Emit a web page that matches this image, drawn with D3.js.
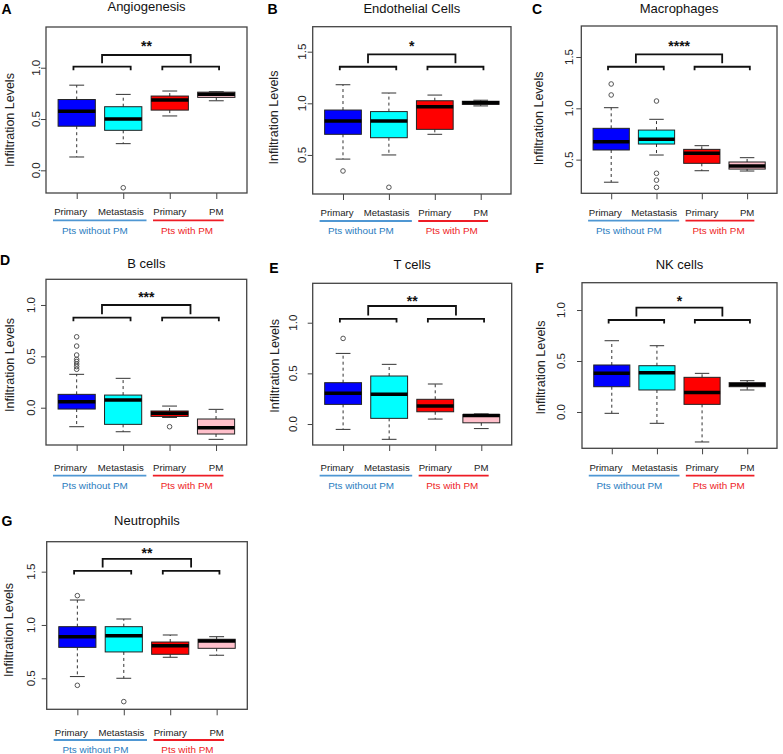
<!DOCTYPE html>
<html>
<head>
<meta charset="utf-8">
<script src="https://cdn.jsdelivr.net/npm/d3@7"></script>
<style>
  html, body { margin: 0; padding: 0; background: #fff; }
  svg { display: block; font-family: "Liberation Sans", Arial, Helvetica, sans-serif; }
</style>
</head>
<body>
<svg id="chart" width="783" height="754"></svg>
<script>
// ---------------- DATA ----------------
const panelTitles = ["Angiogenesis", "Endothelial Cells", "Macrophages", "B cells", "T cells", "NK cells", "Neutrophils"];
const panelLetters = ["A", "B", "C", "D", "E", "F", "G"];
const categories = ["Primary", "Metastasis", "Primary", "PM"];
const groupLabels = ["Pts without PM", "Pts with PM"];
const significance = ["**", "*", "****", "***", "**", "*", "**"];
const yTickValues = [[0, 0.5, 1], [0.5, 1, 1.5], [0.5, 1, 1.5], [0, 0.5, 1], [0, 0.5, 1], [0, 0.5, 1], [0.5, 1, 1.5]];
const yDomains = [[-0.221, 1.397], [0.122, 1.742], [0.172, 1.802], [-0.363, 1.25], [-0.207, 1.389], [-0.356, 1.268], [0.209, 1.781]];

// each box: [lower whisker, Q1, median, Q3, upper whisker]
const angiogenesisStats = [[0.13, 0.43, 0.577, 0.69, 0.83], [0.26, 0.39, 0.50, 0.62, 0.74], [0.53, 0.587, 0.685, 0.724, 0.773], [0.678, 0.711, 0.742, 0.762, 0.766]];
const angiogenesisOutliers = [[], [-0.17], [], []];
const endothelialStats = [[0.46, 0.70, 0.83, 0.935, 1.18], [0.50, 0.667, 0.83, 0.92, 1.10], [0.70, 0.748, 0.967, 1.025, 1.08], [0.975, 0.99, 1.006, 1.02, 1.03]];
const endothelialOutliers = [[0.345], [0.187], [], []];
const macrophageStats = [[0.28, 0.594, 0.675, 0.805, 1.006], [0.545, 0.652, 0.698, 0.788, 0.893], [0.392, 0.464, 0.561, 0.60, 0.636], [0.389, 0.408, 0.438, 0.477, 0.519]];
const macrophageOutliers = [[1.13, 1.237], [1.071, 0.367, 0.30, 0.23], [], []];
const bCellStats = [[-0.185, -0.013, 0.058, 0.13, 0.325], [-0.234, -0.162, 0.075, 0.123, 0.286], [-0.095, -0.085, -0.055, -0.032, 0.016], [-0.308, -0.256, -0.195, -0.11, -0.016]];
const bCellOutliers = [[0.374, 0.40, 0.425, 0.45, 0.47, 0.513, 0.60, 0.69], [], [-0.185], []];
const tCellStats = [[-0.053, 0.194, 0.303, 0.408, 0.697], [-0.151, 0.056, 0.293, 0.474, 0.589], [0.049, 0.121, 0.178, 0.244, 0.395], [-0.045, 0.012, 0.083, 0.093, 0.1]];
const tCellOutliers = [[0.845], [], [], []];
const nkCellStats = [[-0.013, 0.248, 0.379, 0.461, 0.699], [-0.111, 0.216, 0.386, 0.454, 0.65], [-0.294, 0.075, 0.19, 0.34, 0.379], [0.216, 0.248, 0.268, 0.288, 0.307]];
const nkCellOutliers = [[], [], [], []];
const neutrophilStats = [[0.516, 0.79, 0.89, 0.984, 1.234], [0.50, 0.747, 0.90, 0.984, 1.056], [0.697, 0.725, 0.806, 0.84, 0.906], [0.716, 0.781, 0.85, 0.866, 0.89]];
const neutrophilOutliers = [[1.275, 0.434], [0.281], [], []];

// significance bracket levels (data units)
const bracketLower = [1.01, 1.354, 1.405, 0.876, 1.037, 0.902, 1.507];
const bracketUpper = [1.124, 1.474, 1.526, 1.0, 1.165, 1.023, 1.619];
const starLevel = [1.24, 1.584, 1.636, 1.104, 1.247, 1.115, 1.70];

const allStats = [angiogenesisStats, endothelialStats, macrophageStats, bCellStats, tCellStats, nkCellStats, neutrophilStats];
const allOutliers = [angiogenesisOutliers, endothelialOutliers, macrophageOutliers, bCellOutliers, tCellOutliers, nkCellOutliers, neutrophilOutliers];

// ---------------- LAYOUT / STYLE ----------------
const boxFills = ["#0000FF", "#00FFFF", "#FF0000", "#FFC0CB"];
const layout = [
  { box: [46, 27, 247, 193],       titleY: 11,    letter: [1.5, 13.5],   tickX: 35.7,  axisTitle: [10, 120],    off: [19, 27.3, 37.3] },
  { box: [312.7, 26.7, 511, 194],  titleY: 12.7,  letter: [267.5, 14],   tickX: 301.8, axisTitle: [273.3, 117.5], off: [18.5, 27, 37] },
  { box: [581.3, 26, 777, 193.3],  titleY: 12.7,  letter: [532, 14],     tickX: 568.7, axisTitle: [538.7, 118.3], off: [19, 27.4, 37.4] },
  { box: [46, 279.3, 246.7, 445],  titleY: 268.3, letter: [0, 265],      tickX: 30.7,  axisTitle: [10, 365],    off: [22.3, 30.7, 40.7] },
  { box: [312.7, 283.3, 511.7, 445], titleY: 269, letter: [269.3, 273],  tickX: 293,   axisTitle: [274.3, 365.8], off: [22.3, 30.7, 40.7] },
  { box: [582, 282.7, 777, 448.3], titleY: 269.3, letter: [535.3, 273],  tickX: 561,   axisTitle: [540.3, 367.5], off: [19, 27.4, 37.4] },
  { box: [46.7, 541.7, 247.3, 709.3], titleY: 525, letter: [1.5, 526],   tickX: 30.5,  axisTitle: [8.3, 630],   off: [23, 30.7, 40.7] }
];
const labelXs = [0.87, 1.95, 3.0, 4.0];
const groupSpans = [[0.49, 2.5], [2.64, 4.16]];
const groupCenters = [1.39, 3.37];
const groupColors = [{ line: "#4F97D3", text: "#2A7CC0" }, { line: "#EE1C25", text: "#EE1C25" }];

const svg = d3.select("#chart");

panelTitles.forEach((title, p) => {
  const L = layout[p];
  const [x0, y0, x1, y1] = L.box;
  const x = d3.scaleLinear().domain([0.34, 4.66]).range([x0, x1]);
  const y = d3.scaleLinear().domain(yDomains[p]).range([y1, y0]);
  const g = svg.append("g");

  // y axis
  const ya = g.append("g").attr("transform", `translate(${x0},0)`)
    .call(d3.axisLeft(y).tickValues(yTickValues[p]).tickFormat(d3.format(".1f")).tickSize(5).tickSizeOuter(0));
  ya.select(".domain").remove();
  ya.selectAll(".tick line").attr("stroke", "#444").attr("stroke-width", 1);
  ya.selectAll(".tick text").remove();
  yTickValues[p].forEach(v => {
    g.append("text")
      .attr("transform", `translate(${L.tickX},${y(v)}) rotate(-90)`)
      .attr("text-anchor", "middle").attr("dy", "0.35em")
      .attr("font-size", 11.5).attr("fill", "#222")
      .text(d3.format(".1f")(v));
  });

  // x axis ticks
  const xa = g.append("g").attr("transform", `translate(0,${y1})`)
    .call(d3.axisBottom(x).tickValues([1, 2, 3, 4]).tickFormat("").tickSize(6).tickSizeOuter(0));
  xa.select(".domain").remove();
  xa.selectAll(".tick line").attr("stroke", "#444").attr("stroke-width", 1);

  // frame
  g.append("rect").attr("x", x0).attr("y", y0).attr("width", x1 - x0).attr("height", y1 - y0)
    .attr("fill", "none").attr("stroke", "#444").attr("stroke-width", 1.3);

  // boxes
  const step = x(2) - x(1);
  const bw = 0.8 * step;
  const cw = 0.4 * bw;
  allStats[p].forEach((s, i) => {
    const cx = x(i + 1);
    const [lo, q1, med, q3, hi] = s;
    g.append("line").attr("x1", cx).attr("x2", cx).attr("y1", y(q3)).attr("y2", y(hi))
      .attr("stroke", "#333").attr("stroke-width", 1).attr("stroke-dasharray", "3,3");
    g.append("line").attr("x1", cx).attr("x2", cx).attr("y1", y(q1)).attr("y2", y(lo))
      .attr("stroke", "#333").attr("stroke-width", 1).attr("stroke-dasharray", "3,3");
    [lo, hi].forEach(v => g.append("line").attr("x1", cx - cw / 2).attr("x2", cx + cw / 2)
      .attr("y1", y(v)).attr("y2", y(v)).attr("stroke", "#333").attr("stroke-width", 1));
    g.append("rect").attr("x", cx - bw / 2).attr("y", y(q3)).attr("width", bw).attr("height", Math.max(0.5, y(q1) - y(q3)))
      .attr("fill", boxFills[i]).attr("stroke", "#222").attr("stroke-width", 1);
    g.append("line").attr("x1", cx - bw / 2).attr("x2", cx + bw / 2).attr("y1", y(med)).attr("y2", y(med))
      .attr("stroke", "#000").attr("stroke-width", 3.5);
    allOutliers[p][i].forEach(v => g.append("circle").attr("cx", cx).attr("cy", y(v)).attr("r", 2.3)
      .attr("fill", "none").attr("stroke", "#555").attr("stroke-width", 1));
  });

  // significance brackets
  const lb = y(bracketLower[p]), ub = y(bracketUpper[p]);
  const drop = 3.5;
  const lower = [[0.93, 2.16], [2.84, 4.06]];
  lower.forEach(([a, b]) => {
    g.append("path").attr("d", `M${x(a)},${lb + drop}V${lb}H${x(b)}V${lb + drop}`)
      .attr("fill", "none").attr("stroke", "#111").attr("stroke-width", 1.8);
  });
  const ca = x((lower[0][0] + lower[0][1]) / 2), cb = x((lower[1][0] + lower[1][1]) / 2);
  g.append("path").attr("d", `M${ca},${lb - drop}V${ub}H${cb}V${lb - drop}`)
    .attr("fill", "none").attr("stroke", "#111").attr("stroke-width", 1.8);
  g.append("text").attr("x", x(2.5)).attr("y", y(starLevel[p]) + 8)
    .attr("text-anchor", "middle").attr("font-size", 14).attr("font-weight", "bold").attr("fill", "#111")
    .text(significance[p]);

  // category labels
  categories.forEach((c, i) => {
    g.append("text").attr("x", x(labelXs[i])).attr("y", y1 + L.off[0]).attr("dy", "0.35em")
      .attr("text-anchor", "middle").attr("font-size", 9.6).attr("fill", "#222").text(c);
  });
  // group lines + labels
  groupSpans.forEach(([a, b], k) => {
    g.append("line").attr("x1", x(a)).attr("x2", x(b)).attr("y1", y1 + L.off[1]).attr("y2", y1 + L.off[1])
      .attr("stroke", groupColors[k].line).attr("stroke-width", 1.8);
    g.append("text").attr("x", x(groupCenters[k])).attr("y", y1 + L.off[2]).attr("dy", "0.35em")
      .attr("text-anchor", "middle").attr("font-size", 9.9).attr("fill", groupColors[k].text).text(groupLabels[k]);
  });

  // titles
  g.append("text").attr("x", (x0 + x1) / 2).attr("y", L.titleY).attr("text-anchor", "middle")
    .attr("font-size", 13).attr("fill", "#111").text(title);
  g.append("text").attr("x", L.letter[0]).attr("y", L.letter[1])
    .attr("font-size", 14).attr("font-weight", "bold").attr("fill", "#000").text(panelLetters[p]);
  g.append("text").attr("transform", `translate(${L.axisTitle[0]},${L.axisTitle[1]}) rotate(-90)`)
    .attr("text-anchor", "middle").attr("dy", "0.35em").attr("font-size", 12.5).attr("fill", "#222")
    .text("Infiltration Levels");
});
</script>
</body>
</html>
